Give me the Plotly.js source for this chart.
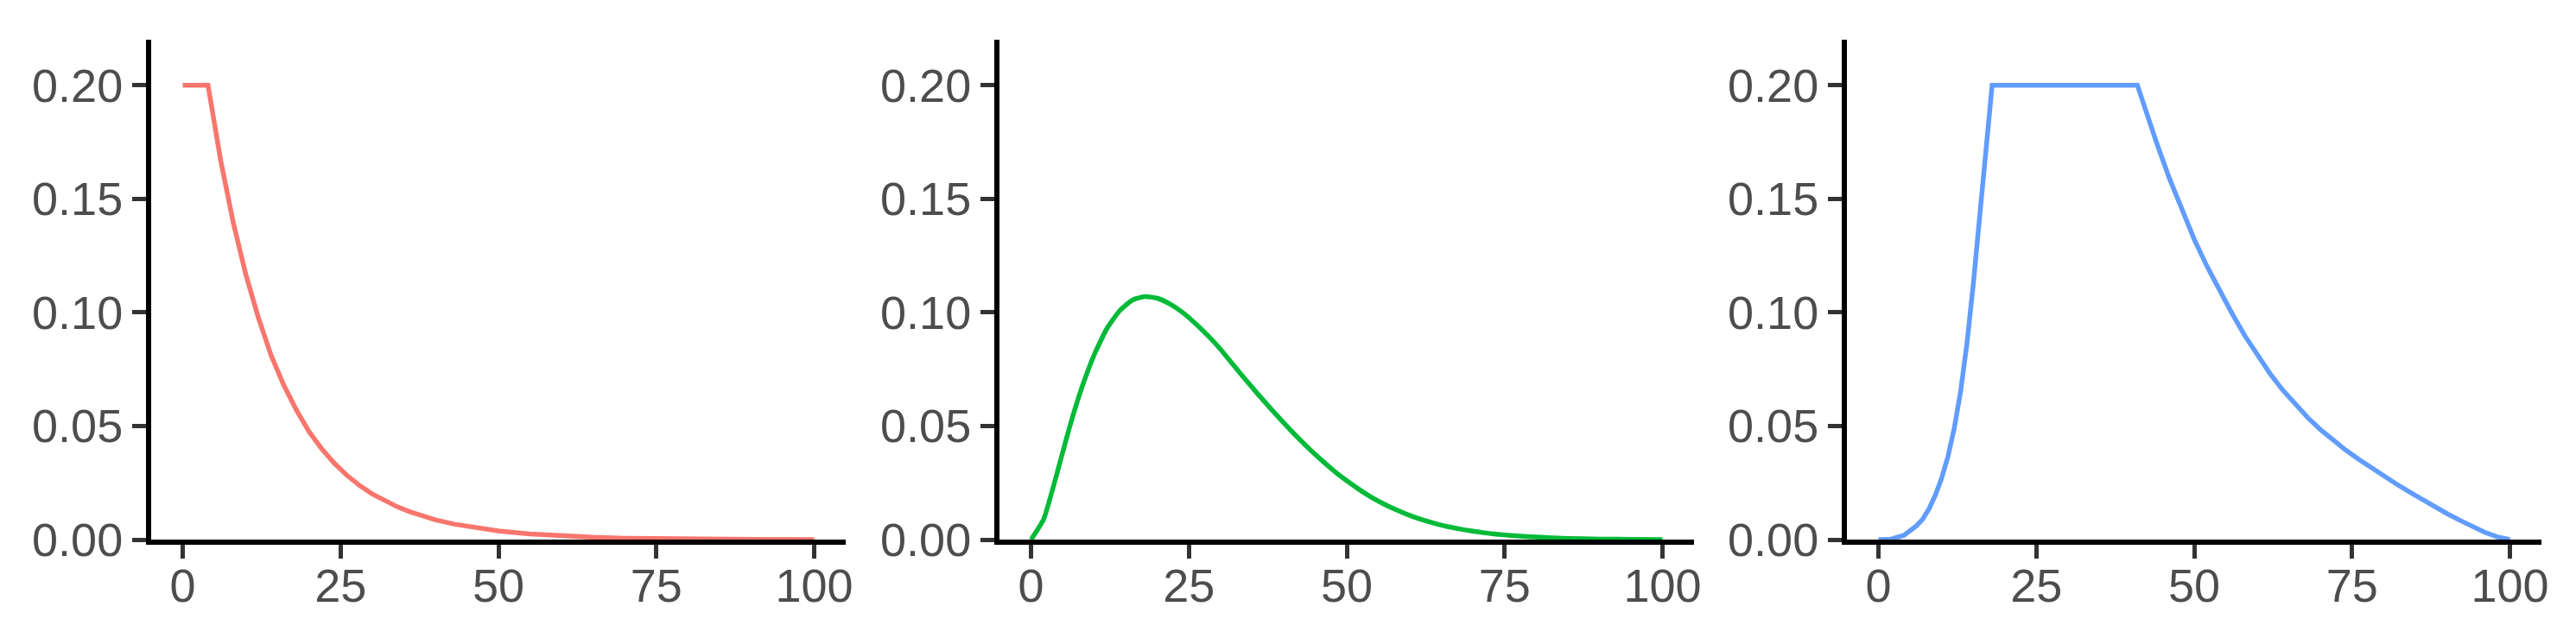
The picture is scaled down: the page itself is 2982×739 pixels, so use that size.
<!DOCTYPE html>
<html>
<head>
<meta charset="utf-8">
<script src="https://cdn.plot.ly/plotly-3.0.1.min.js"></script>
<style>html,body{margin:0;padding:0;background:#fff;}#chart{width:2982px;height:739px;}</style>
</head>
<body>
<div id="chart"></div>
<script>
// ---- data ----
const xTickVals = [0, 25, 50, 75, 100];
const xTickText = ["0", "25", "50", "75", "100"];
const yTickVals = [0, 0.05, 0.10, 0.15, 0.20];
const yTickText = ["0.00", "0.05", "0.10", "0.15", "0.20"];

const redX = [0, 4, 6, 8, 10, 12, 14, 16, 18, 20, 22, 24, 26, 28, 30, 32, 34, 36, 38, 40, 43, 46, 50, 55, 60, 65, 70, 80, 90, 100];
const redY = [0.2, 0.2, 0.167, 0.1395, 0.1165, 0.0975, 0.081, 0.068, 0.057, 0.0475, 0.040, 0.0336, 0.0283, 0.0238, 0.0201, 0.0170, 0.0144, 0.0122, 0.0103, 0.0087, 0.0068, 0.0053, 0.0038, 0.0025, 0.0016, 0.0010, 0.0006, 0.0002, 0.0001, 0.00003];

const greenX = [0, 2, 4, 6, 8, 10, 12, 14, 16, 18, 20, 22, 24, 26, 28, 30, 32, 34, 36, 38, 40, 42, 44, 46, 48, 50, 52, 54, 56, 58, 60, 62, 64, 66, 68, 70, 72, 74, 76, 78, 80, 85, 90, 95, 100];
const greenY = [0, 0.009, 0.028, 0.0485, 0.0665, 0.0813, 0.0928, 0.1006, 0.1053, 0.1070, 0.1062, 0.1037, 0.1000, 0.0952, 0.0898, 0.0838, 0.0770, 0.0703, 0.0638, 0.0575, 0.0514, 0.0456, 0.0401, 0.0350, 0.0302, 0.0259, 0.0220, 0.0185, 0.0155, 0.0129, 0.0106, 0.0087, 0.0071, 0.0057, 0.0046, 0.0037, 0.0029, 0.0023, 0.0018, 0.0014, 0.0011, 0.0005, 0.0002, 0.0001, 0];

const blueX = [0, 2, 4, 6, 7, 8, 9, 10, 11, 12, 13, 14, 15, 16, 17, 18, 41, 42, 44, 46, 48, 50, 52, 54, 56, 58, 60, 62, 64, 66, 68, 70, 72, 74, 76, 78, 80, 82, 84, 86, 88, 90, 92, 94, 96, 98, 100];
const blueY = [0, 0.0002, 0.0018, 0.006, 0.009, 0.0135, 0.0195, 0.027, 0.0365, 0.049, 0.065, 0.086, 0.112, 0.141, 0.171, 0.2, 0.2, 0.1915, 0.1750, 0.1595, 0.1452, 0.1322, 0.1204, 0.1096, 0.0995, 0.0898, 0.0810, 0.0731, 0.0659, 0.0594, 0.0536, 0.0484, 0.0437, 0.0394, 0.0354, 0.0316, 0.0280, 0.0245, 0.0211, 0.0178, 0.0146, 0.0115, 0.0086, 0.0058, 0.0032, 0.0012, 0];

const colors = ["#F8766D", "#00BA38", "#619CFF"];

// ---- chart ----
const traces = [
  {x: redX, y: redY, xaxis: "x", yaxis: "y", mode: "lines", line: {color: colors[0], width: 5.5, shape: "linear"}, hoverinfo: "skip"},
  {x: greenX, y: greenY, xaxis: "x2", yaxis: "y2", mode: "lines", line: {color: colors[1], width: 5.5, shape: "spline", smoothing: 0.5}, hoverinfo: "skip"},
  {x: blueX, y: blueY, xaxis: "x3", yaxis: "y3", mode: "lines", line: {color: colors[2], width: 5.5, shape: "linear"}, hoverinfo: "skip"}
];

const W = 2982, H = 739;
const tickFont = {family: "'Liberation Sans', Arial, sans-serif", size: 54, color: "#4D4D4D"};
function xAx(l, r) {
  return {
    domain: [l / W, r / W], range: [-5, 105], tickmode: "array", tickvals: xTickVals, ticktext: xTickText,
    showgrid: false, zeroline: false, showline: true, linecolor: "#000", linewidth: 6,
    ticks: "outside", ticklen: 16, tickwidth: 5, tickcolor: "#333333", tickfont: tickFont,
    ticklabelstandoff: -15, fixedrange: true
  };
}
function yAx(anchor) {
  return {
    domain: [(H - 625) / H, (H - 46) / H], range: [0, 0.22], anchor: anchor, tickmode: "array",
    tickvals: yTickVals, ticktext: yTickText,
    showgrid: false, zeroline: false, showline: true, linecolor: "#000", linewidth: 6,
    ticks: "outside", ticklen: 16, tickwidth: 5, tickcolor: "#333333", tickfont: tickFont,
    ticklabelstandoff: 0, fixedrange: true
  };
}
const layout = {
  width: W, height: H,
  margin: {l: 0, r: 0, t: 0, b: 0},
  paper_bgcolor: "#fff", plot_bgcolor: "#fff",
  showlegend: false,
  xaxis: Object.assign(xAx(175, 979), {anchor: "y"}),
  xaxis2: Object.assign(xAx(1157, 1961), {anchor: "y2"}),
  xaxis3: Object.assign(xAx(2138, 2942), {anchor: "y3"}),
  yaxis: yAx("x"),
  yaxis2: yAx("x2"),
  yaxis3: yAx("x3")
};
Plotly.newPlot("chart", traces, layout, {displayModeBar: false, staticPlot: true});
</script>
</body>
</html>
